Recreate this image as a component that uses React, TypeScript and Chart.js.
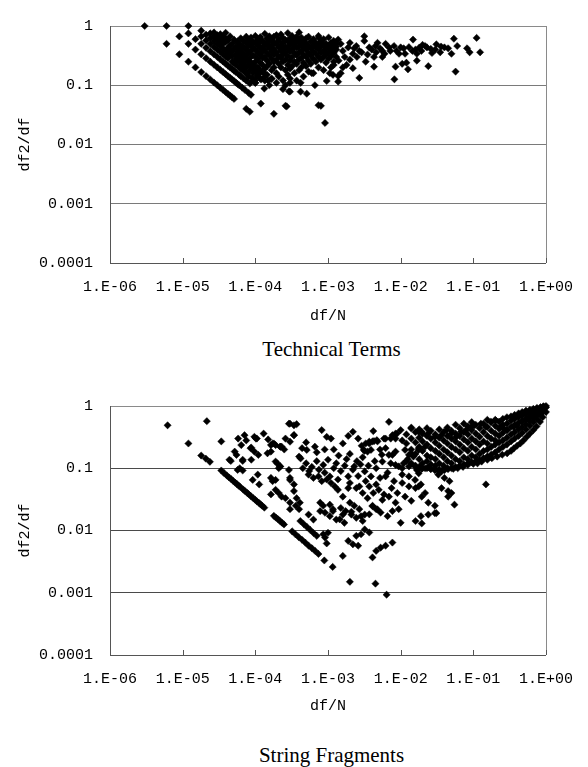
import React, { useEffect, useRef } from 'react';
import { Chart, registerables } from 'chart.js';

Chart.register(...registerables);

// ---------- axis / text data ----------
const xTickValues = [1e-6, 1e-5, 1e-4, 1e-3, 1e-2, 1e-1, 1];
const xTickLabels = ['1.E-06', '1.E-05', '1.E-04', '1.E-03', '1.E-02', '1.E-01', '1.E+00'];
const yTickValues = [1e-4, 1e-3, 1e-2, 1e-1, 1];
const yTickLabels = ['0.0001', '0.001', '0.01', '0.1', '1'];
const xAxisTitle = 'df/N';
const yAxisTitle = 'df2/df';
const panelTitles = ['Technical Terms', 'String Fragments'];

type Pt = [number, number];

// ---------- Technical Terms ----------
const techTop: Pt[] = [[3.0e-6, 1], [6.0e-6, 1], [1.2e-5, 1]];

const techStripeA: Pt[] = [
  [6.0e-6, 0.5], [9.0e-6, 0.333], [1.2e-5, 0.25], [1.5e-5, 0.2], [1.8e-5, 0.167], [2.1e-5, 0.143],
  [2.4e-5, 0.125], [2.7e-5, 0.111], [3.0e-5, 0.1], [3.3e-5, 0.0909], [3.6e-5, 0.0833], [3.9e-5, 0.0769],
  [4.2e-5, 0.0714], [4.5e-5, 0.0667], [4.8e-5, 0.0625], [5.1e-5, 0.0588], [7.5e-5, 0.04], [8.4e-5, 0.0357],
];

const techStripeB: Pt[] = [
  [9.0e-6, 0.667], [1.2e-5, 0.5], [1.5e-5, 0.4], [1.8e-5, 0.333], [2.1e-5, 0.286], [2.4e-5, 0.25],
  [2.7e-5, 0.222], [3.0e-5, 0.2], [3.3e-5, 0.182], [3.6e-5, 0.167], [3.9e-5, 0.154], [4.2e-5, 0.143],
  [4.5e-5, 0.133], [4.8e-5, 0.125], [5.1e-5, 0.118], [5.4e-5, 0.111], [5.7e-5, 0.105], [6.0e-5, 0.1],
  [6.6e-5, 0.0909], [7.2e-5, 0.0833], [8.1e-5, 0.0741], [8.7e-5, 0.069], [1.19e-4, 0.049], [1.8e-4, 0.033],
];

const techStripeC: Pt[] = [
  [1.2e-5, 0.75], [1.5e-5, 0.6], [1.8e-5, 0.5], [2.1e-5, 0.429], [2.4e-5, 0.375], [2.7e-5, 0.333],
  [3.0e-5, 0.3], [3.3e-5, 0.273], [3.6e-5, 0.25], [3.9e-5, 0.231], [4.2e-5, 0.214], [4.5e-5, 0.2],
  [4.8e-5, 0.188], [5.1e-5, 0.176], [5.4e-5, 0.167], [6.0e-5, 0.15], [6.3e-5, 0.143], [6.9e-5, 0.13],
  [7.5e-5, 0.12], [8.4e-5, 0.107],
];

const techStripeD: Pt[] = [
  [1.8e-5, 0.667], [2.1e-5, 0.571], [2.4e-5, 0.5], [2.7e-5, 0.444], [3.0e-5, 0.4], [3.3e-5, 0.364],
  [3.6e-5, 0.333], [3.9e-5, 0.308], [4.2e-5, 0.286], [4.8e-5, 0.25], [5.1e-5, 0.235], [5.4e-5, 0.222],
  [6.0e-5, 0.2], [6.6e-5, 0.182], [7.2e-5, 0.167], [7.8e-5, 0.154], [9.0e-5, 0.133], [9.9e-5, 0.121],
  [2.6e-4, 0.045],
  [1.8e-5, 0.833], [2.1e-5, 0.714], [2.4e-5, 0.625], [2.7e-5, 0.556], [3.0e-5, 0.5], [3.3e-5, 0.455],
  [3.6e-5, 0.417], [3.9e-5, 0.385], [4.2e-5, 0.357], [4.5e-5, 0.333], [4.8e-5, 0.313], [5.4e-5, 0.278],
  [5.7e-5, 0.263], [6.3e-5, 0.238], [6.9e-5, 0.217], [7.5e-5, 0.2], [8.4e-5, 0.179], [9.3e-5, 0.161],
  [1.05e-4, 0.143], [1.2e-4, 0.125],
];

const techStripeE: Pt[] = [
  [2.4e-5, 0.75], [2.7e-5, 0.667], [3.0e-5, 0.6], [3.3e-5, 0.545], [3.6e-5, 0.5], [4.2e-5, 0.429],
  [4.5e-5, 0.4], [4.8e-5, 0.375], [5.4e-5, 0.333], [6.0e-5, 0.3], [6.6e-5, 0.273], [7.2e-5, 0.25],
  [8.1e-5, 0.222], [9.0e-5, 0.2], [1.02e-4, 0.176], [1.14e-4, 0.158], [1.32e-4, 0.136], [1.5e-4, 0.12],
  [2.7e-5, 0.778], [3.0e-5, 0.7], [3.3e-5, 0.636], [3.6e-5, 0.583], [3.9e-5, 0.538], [4.5e-5, 0.467],
  [5.1e-5, 0.412], [5.7e-5, 0.368], [6.3e-5, 0.333], [6.9e-5, 0.304], [7.8e-5, 0.269], [8.7e-5, 0.241],
  [9.9e-5, 0.212], [1.14e-4, 0.184], [1.35e-4, 0.156], [1.65e-4, 0.127],
  [3.3e-5, 0.727], [3.6e-5, 0.667], [3.9e-5, 0.615], [4.2e-5, 0.571], [4.8e-5, 0.5], [5.4e-5, 0.444],
  [6.0e-5, 0.4], [6.6e-5, 0.364], [7.5e-5, 0.32],
  [3.9e-5, 0.769], [4.5e-5, 0.667], [5.1e-5, 0.588], [5.7e-5, 0.526], [6.6e-5, 0.455], [7.5e-5, 0.4],
];

const techCloud: Pt[] = [
  [5.7e-5, 0.55], [5.7e-5, 0.42], [5.7e-5, 0.3],
  [6.3e-5, 0.62], [6.3e-5, 0.48], [6.3e-5, 0.36], [6.3e-5, 0.26], [6.3e-5, 0.19],
  [6.9e-5, 0.56], [6.9e-5, 0.44], [6.9e-5, 0.33], [6.9e-5, 0.24],
  [7.5e-5, 0.66], [7.5e-5, 0.52], [7.5e-5, 0.4], [7.5e-5, 0.28], [7.5e-5, 0.16],
  [8.1e-5, 0.58], [8.1e-5, 0.46], [8.1e-5, 0.35], [8.1e-5, 0.25], [8.1e-5, 0.14],
  [8.7e-5, 0.64], [8.7e-5, 0.5], [8.7e-5, 0.38], [8.7e-5, 0.3], [8.7e-5, 0.21],
  [9.3e-5, 0.54], [9.3e-5, 0.43], [9.3e-5, 0.32], [9.3e-5, 0.23], [9.3e-5, 0.12],
  [1.0e-4, 0.68], [1.0e-4, 0.52], [1.0e-4, 0.4], [1.0e-4, 0.31], [1.0e-4, 0.25], [1.0e-4, 0.18], [1.0e-4, 0.11],
  [1.08e-4, 0.6], [1.08e-4, 0.47], [1.08e-4, 0.36], [1.08e-4, 0.28], [1.08e-4, 0.2], [1.08e-4, 0.15],
  [1.17e-4, 0.65], [1.17e-4, 0.54], [1.17e-4, 0.42], [1.17e-4, 0.33], [1.17e-4, 0.24], [1.17e-4, 0.13],
  [1.26e-4, 0.56], [1.26e-4, 0.45], [1.26e-4, 0.37], [1.26e-4, 0.29], [1.26e-4, 0.22], [1.26e-4, 0.17],
  [1.35e-4, 0.74], [1.35e-4, 0.51], [1.35e-4, 0.4], [1.35e-4, 0.3], [1.35e-4, 0.19], [1.35e-4, 0.12],
  [1.45e-4, 0.62], [1.45e-4, 0.48], [1.45e-4, 0.35], [1.45e-4, 0.26], [1.45e-4, 0.21], [1.45e-4, 0.15],
  [1.56e-4, 0.67], [1.56e-4, 0.55], [1.56e-4, 0.43], [1.56e-4, 0.32], [1.56e-4, 0.23], [1.56e-4, 0.1],
  [1.68e-4, 0.58], [1.68e-4, 0.47], [1.68e-4, 0.38], [1.68e-4, 0.28], [1.68e-4, 0.18], [1.68e-4, 0.13],
  [1.8e-4, 0.66], [1.8e-4, 0.53], [1.8e-4, 0.41], [1.8e-4, 0.33], [1.8e-4, 0.25], [1.8e-4, 0.2],
  [1.95e-4, 0.7], [1.95e-4, 0.5], [1.95e-4, 0.36], [1.95e-4, 0.27], [1.95e-4, 0.16], [1.95e-4, 0.11],
  [2.1e-4, 0.6], [2.1e-4, 0.56], [2.1e-4, 0.44], [2.1e-4, 0.31], [2.1e-4, 0.23], [2.1e-4, 0.14],
  [2.25e-4, 0.72], [2.25e-4, 0.47], [2.25e-4, 0.38], [2.25e-4, 0.29], [2.25e-4, 0.2],
  [2.4e-4, 0.63], [2.4e-4, 0.52], [2.4e-4, 0.41], [2.4e-4, 0.33], [2.4e-4, 0.25], [2.4e-4, 0.12],
  [2.6e-4, 0.58], [2.6e-4, 0.45], [2.6e-4, 0.36], [2.6e-4, 0.27], [2.6e-4, 0.18], [2.6e-4, 0.1],
  [2.8e-4, 0.76], [2.8e-4, 0.55], [2.8e-4, 0.42], [2.8e-4, 0.31], [2.8e-4, 0.22], [2.8e-4, 0.15],
  [3.0e-4, 0.62], [3.0e-4, 0.48], [3.0e-4, 0.37], [3.0e-4, 0.26], [3.0e-4, 0.19], [3.0e-4, 0.13],
  [3.2e-4, 0.68], [3.2e-4, 0.52], [3.2e-4, 0.4], [3.2e-4, 0.3], [3.2e-4, 0.21],
  [3.45e-4, 0.58], [3.45e-4, 0.46], [3.45e-4, 0.35], [3.45e-4, 0.25], [3.45e-4, 0.16],
  [3.7e-4, 0.66], [3.7e-4, 0.53], [3.7e-4, 0.43], [3.7e-4, 0.32], [3.7e-4, 0.23], [3.7e-4, 0.12],
  [4.0e-4, 0.78], [4.0e-4, 0.58], [4.0e-4, 0.45], [4.0e-4, 0.36], [4.0e-4, 0.27], [4.0e-4, 0.18],
  [4.3e-4, 0.64], [4.3e-4, 0.5], [4.3e-4, 0.38], [4.3e-4, 0.29], [4.3e-4, 0.2],
  [4.6e-4, 0.55], [4.6e-4, 0.44], [4.6e-4, 0.33], [4.6e-4, 0.24], [4.6e-4, 0.14],
  [5.0e-4, 0.62], [5.0e-4, 0.51], [5.0e-4, 0.4], [5.0e-4, 0.3], [5.0e-4, 0.21],
  [5.4e-4, 0.66], [5.4e-4, 0.46], [5.4e-4, 0.35], [5.4e-4, 0.26], [5.4e-4, 0.17],
  [5.8e-4, 0.55], [5.8e-4, 0.42], [5.8e-4, 0.32], [5.8e-4, 0.23],
  [6.3e-4, 0.6], [6.3e-4, 0.48], [6.3e-4, 0.37], [6.3e-4, 0.28], [6.3e-4, 0.16],
  [6.8e-4, 0.52], [6.8e-4, 0.44], [6.8e-4, 0.34], [6.8e-4, 0.25],
  [7.4e-4, 0.68], [7.4e-4, 0.5], [7.4e-4, 0.4], [7.4e-4, 0.3], [7.4e-4, 0.2],
  [8.0e-4, 0.55], [8.0e-4, 0.45], [8.0e-4, 0.35], [8.0e-4, 0.27],
  [8.7e-4, 0.6], [8.7e-4, 0.48], [8.7e-4, 0.38], [8.7e-4, 0.3], [8.7e-4, 0.18],
  [9.4e-4, 0.5], [9.4e-4, 0.42], [9.4e-4, 0.33], [9.4e-4, 0.24],
  [1.02e-3, 0.64], [1.02e-3, 0.46], [1.02e-3, 0.36], [1.02e-3, 0.28],
  [1.1e-3, 0.5], [1.1e-3, 0.4], [1.1e-3, 0.31], [1.1e-3, 0.2],
  [1.2e-3, 0.56], [1.2e-3, 0.45], [1.2e-3, 0.35], [1.2e-3, 0.25],
  [1.3e-3, 0.5], [1.3e-3, 0.4], [1.3e-3, 0.3],
];

const techLow: Pt[] = [
  [1.33e-4, 0.088], [2.4e-4, 0.086], [2.9e-4, 0.079], [3.0e-4, 0.078], [4.2e-4, 0.078], [5.1e-4, 0.072],
  [2.7e-4, 0.044], [7.4e-4, 0.046], [8.0e-4, 0.045], [9.1e-4, 0.0231], [6.6e-4, 0.1], [1.0e-4, 0.11],
];

const techRight: Pt[] = [
  [7.5e-4, 0.63], [1.38e-3, 0.59], [3.16e-3, 0.67], [3.16e-3, 0.56], [4.8e-3, 0.52], [6.2e-3, 0.5],
  [8.1e-3, 0.46], [1.0e-2, 0.435], [1.48e-2, 0.59], [2.17e-2, 0.46], [3.1e-2, 0.49], [4.0e-2, 0.435],
  [5.4e-2, 0.61], [6.0e-2, 0.46], [8.2e-2, 0.42], [8.9e-2, 0.36], [0.111, 0.63], [0.124, 0.36],
  [5.0e-2, 0.34], [5.7e-2, 0.17], [2.4e-2, 0.21], [1.67e-2, 0.26], [1.26e-2, 0.186], [1.05e-2, 0.23],
  [1.2e-2, 0.24], [8.5e-3, 0.206], [8.2e-3, 0.126], [2.7e-2, 0.35], [3.5e-2, 0.36], [2.3e-2, 0.435],
  [1.93e-2, 0.38], [1.67e-2, 0.34], [1.45e-2, 0.38], [1.15e-2, 0.34], [9.5e-3, 0.34], [6.9e-3, 0.435],
  [5.6e-3, 0.38], [4.6e-3, 0.36], [4.3e-3, 0.3], [5.6e-3, 0.3], [4.3e-3, 0.206], [3.3e-3, 0.25],
  [3.7e-3, 0.435], [2.7e-3, 0.38], [2.45e-3, 0.46], [2.2e-3, 0.34], [2.7e-3, 0.133], [2.2e-3, 0.194],
  [1.8e-3, 0.22], [1.9e-3, 0.435], [1.6e-3, 0.38], [1.5e-3, 0.16], [1.38e-3, 0.143], [1.38e-3, 0.115],
  [1.17e-3, 0.15], [1.06e-3, 0.16], [9.6e-4, 0.118], [6.0e-4, 0.16], [4.2e-4, 0.11], [3.0e-4, 0.11],
  [1.5e-3, 0.5], [1.7e-3, 0.3], [2.0e-3, 0.27], [2.0e-3, 0.52], [2.3e-3, 0.42], [2.5e-3, 0.3],
  [2.9e-3, 0.36], [3.5e-3, 0.33], [4.0e-3, 0.4], [4.5e-3, 0.46], [5.2e-3, 0.42], [6.0e-3, 0.34],
  [7.2e-3, 0.38], [8.8e-3, 0.38], [1.1e-2, 0.42], [1.3e-2, 0.44], [1.6e-2, 0.4], [1.8e-2, 0.43],
  [2.0e-2, 0.48], [2.6e-2, 0.41], [3.0e-2, 0.4], [3.6e-2, 0.45], [4.5e-2, 0.42], [1.4e-3, 0.26],
  [1.2e-3, 0.22], [1.6e-3, 0.2], [1.3e-3, 0.45], [1.1e-3, 0.52],
];

// ---------- String Fragments ----------
const fragStripeA: Pt[] = [
  [6.2e-6, 0.49], [1.2e-5, 0.25], [1.8e-5, 0.16], [2.08e-5, 0.143], [2.37e-5, 0.127], [3.4e-5, 0.092],
  [3.72e-5, 0.0833], [4.03e-5, 0.0769], [4.34e-5, 0.0714], [4.65e-5, 0.0667], [4.96e-5, 0.0625],
  [5.27e-5, 0.0588], [5.58e-5, 0.0556], [5.89e-5, 0.0526], [6.2e-5, 0.05], [6.82e-5, 0.0455],
  [7.13e-5, 0.0435], [7.75e-5, 0.04], [8.06e-5, 0.0385], [8.68e-5, 0.0357], [9.3e-5, 0.0333],
  [9.92e-5, 0.0313], [1.05e-4, 0.0294], [1.12e-4, 0.0278], [1.18e-4, 0.0263], [1.24e-4, 0.025],
  [1.33e-4, 0.0233], [1.8e-4, 0.0172], [1.92e-4, 0.0161], [2.05e-4, 0.0152], [2.17e-4, 0.0143],
  [2.33e-4, 0.0133], [2.48e-4, 0.0125], [3.21e-4, 0.0097], [3.56e-4, 0.0087], [3.96e-4, 0.0078],
  [4.39e-4, 0.0071], [4.86e-4, 0.0064], [5.41e-4, 0.0057], [6.0e-4, 0.0052], [6.64e-4, 0.0047],
  [7.39e-4, 0.0042], [8.9e-4, 0.0033], [1.16e-3, 0.0026], [2.0e-3, 0.0015],
];

const fragStripeB: Pt[] = [
  [4.16e-4, 0.0142], [4.63e-4, 0.0127], [5.13e-4, 0.0114], [5.69e-4, 0.0102], [6.33e-4, 0.0091],
  [7.01e-4, 0.0082], [9.6e-4, 0.0062], [1.6e-3, 0.0039], [4.5e-3, 0.0014], [6.4e-3, 0.00093],
  [8.6e-4, 0.0087], [9.1e-4, 0.0077], [1.0e-3, 0.0092],
];

const fragLeft: Pt[] = [
  [2.15e-5, 0.57], [3.4e-5, 0.27], [5.8e-5, 0.3], [7.1e-5, 0.34], [6.4e-5, 0.236], [8.6e-5, 0.21],
  [1.02e-4, 0.3], [5.5e-5, 0.164], [6.7e-5, 0.137], [8.8e-5, 0.137], [1.1e-4, 0.164], [4.4e-5, 0.137],
  [6.1e-5, 0.1], [6.7e-5, 0.092], [9.2e-5, 0.065], [1.08e-4, 0.079], [1.13e-4, 0.055], [1.73e-4, 0.25],
  [1.9e-4, 0.236], [2.2e-4, 0.222], [1.64e-4, 0.185], [1.9e-4, 0.128], [2.1e-4, 0.1], [1.9e-4, 0.065],
  [1.64e-4, 0.038], [1.9e-4, 0.045], [2.1e-4, 0.04], [2.3e-4, 0.035], [9.7e-5, 0.32], [1.05e-4, 0.3],
  [8.8e-5, 0.214], [9.7e-5, 0.185], [5.7e-5, 0.094], [5.2e-5, 0.185], [6.7e-5, 0.131], [4.6e-5, 0.131],
  [7.5e-5, 0.28], [1.64e-4, 0.236], [1.8e-4, 0.25], [2.3e-4, 0.222], [1.47e-4, 0.174], [2.2e-4, 0.107],
  [2.9e-4, 0.094], [2.9e-4, 0.52], [3.4e-4, 0.49], [3.4e-4, 0.34], [3.0e-4, 0.065], [3.4e-4, 0.043],
  [1.64e-4, 0.07], [1.73e-4, 0.062], [2.6e-4, 0.033], [1.3e-4, 0.36], [1.5e-4, 0.29], [2.5e-4, 0.2],
  [2.6e-4, 0.3],
];

const fragLowV: Pt[] = [
  [3.0e-4, 0.022], [3.6e-4, 0.025], [4.0e-4, 0.022], [7.8e-4, 0.0205], [9.1e-4, 0.0193], [1.06e-3, 0.017],
  [1.17e-3, 0.0205], [1.45e-3, 0.0151], [1.68e-3, 0.0133], [1.9e-3, 0.0068], [2.2e-3, 0.006],
  [2.6e-3, 0.0057], [2.45e-3, 0.0082], [2.85e-3, 0.0087], [3.2e-3, 0.0104], [3.7e-3, 0.0093],
  [4.1e-3, 0.0037], [4.6e-3, 0.0047], [5.3e-3, 0.0053], [6.2e-3, 0.0057], [7.7e-3, 0.0064],
  [4.1e-3, 0.0245], [4.8e-3, 0.0218], [5.3e-3, 0.0194], [6.6e-3, 0.017], [7.7e-3, 0.0205],
  [3.7e-3, 0.0182], [3.0e-3, 0.0142], [1.5e-3, 0.023], [1.75e-3, 0.0205], [2.1e-3, 0.018],
  [2.45e-3, 0.016], [2.85e-3, 0.017], [1.0e-2, 0.0133], [1.6e-2, 0.0142], [1.9e-2, 0.017],
  [5.4e-4, 0.018], [6.3e-4, 0.015], [1.3e-3, 0.015], [1.6e-3, 0.018], [2.1e-3, 0.02],
];

const fragMid: Pt[] = [
  [3.0e-4, 0.52], [3.7e-4, 0.51], [3.4e-4, 0.34], [8.2e-4, 0.41], [9.6e-4, 0.32], [2.2e-3, 0.385],
  [4.2e-3, 0.395], [6.9e-3, 0.556], [8.5e-3, 0.36], [1.0e-2, 0.41], [1.4e-2, 0.435], [1.77e-2, 0.385],
  [1.05e-2, 0.28], [5.9e-3, 0.3], [7.3e-3, 0.3], [8.5e-3, 0.3], [4.8e-3, 0.27], [4.1e-3, 0.27],
  [3.7e-3, 0.25], [3.1e-3, 0.197], [3.5e-3, 0.185], [2.2e-4, 0.222], [3.0e-4, 0.267], [4.4e-4, 0.21],
  [5.1e-4, 0.197], [6.6e-4, 0.222], [4.0e-4, 0.154], [4.2e-4, 0.144], [8.6e-4, 0.113], [1.0e-3, 0.137],
  [2.3e-3, 0.107], [2.2e-3, 0.095], [3.2e-3, 0.089], [3.9e-3, 0.074], [4.6e-3, 0.1], [6.2e-3, 0.074],
  [6.9e-3, 0.164], [7.7e-3, 0.164], [5.6e-3, 0.128], [7.3e-3, 0.12], [9.4e-3, 0.107], [1.05e-2, 0.079],
  [1.3e-2, 0.074], [1.77e-2, 0.083], [1.3e-2, 0.164], [1.5e-2, 0.154], [1.77e-2, 0.197], [2.2e-4, 0.107],
  [2.0e-4, 0.12], [3.0e-4, 0.07], [3.4e-4, 0.055], [5.4e-4, 0.079], [6.3e-4, 0.07], [7.4e-4, 0.074],
  [8.2e-4, 0.062], [9.6e-4, 0.066], [1.06e-3, 0.074], [1.1e-3, 0.058], [1.37e-3, 0.066], [1.24e-3, 0.051],
  [1.37e-3, 0.045], [1.9e-3, 0.074], [2.0e-3, 0.058], [1.9e-3, 0.048], [2.45e-3, 0.048], [2.7e-3, 0.051],
  [3.3e-3, 0.062], [3.7e-3, 0.051], [4.6e-3, 0.055], [5.0e-3, 0.045], [5.9e-3, 0.038], [8.1e-3, 0.062],
  [1.05e-2, 0.058], [1.3e-2, 0.051], [1.6e-2, 0.048], [1.9e-2, 0.055], [1.6e-3, 0.035], [2.0e-3, 0.028],
  [2.3e-3, 0.025], [2.7e-3, 0.022], [3.2e-3, 0.018], [4.1e-3, 0.025], [4.6e-3, 0.022], [5.6e-3, 0.031],
  [6.9e-3, 0.035], [8.5e-3, 0.028], [9.4e-3, 0.022], [3.0e-4, 0.028], [3.7e-4, 0.033], [4.1e-4, 0.028],
  [7.8e-4, 0.028], [8.6e-4, 0.025], [1.06e-3, 0.026], [1.17e-3, 0.022], [3.3e-3, 0.25], [3.7e-3, 0.267],
  [4.3e-3, 0.273], [4.7e-3, 0.283], [3.2e-3, 0.19], [3.9e-3, 0.197], [6.2e-3, 0.3], [7.7e-3, 0.34],
  [8.9e-3, 0.36], [6.2e-3, 0.21], [8.5e-3, 0.185], [1.15e-2, 0.197], [1.4e-2, 0.174], [1.77e-2, 0.21],
  [2.17e-2, 0.222], [8.5e-3, 0.113], [1.05e-2, 0.1], [1.3e-2, 0.107], [1.67e-2, 0.094], [1.95e-2, 0.098],
  [2.4e-2, 0.103], [2.96e-2, 0.094],
  [4.5e-4, 0.1], [5.0e-4, 0.12], [5.5e-4, 0.09], [6.0e-4, 0.105], [7.0e-4, 0.13], [7.5e-4, 0.095],
  [9.0e-4, 0.085], [1.2e-3, 0.1], [1.3e-3, 0.12], [1.5e-3, 0.09], [1.7e-3, 0.11], [1.8e-3, 0.14],
  [2.5e-3, 0.13], [2.8e-3, 0.115], [1.4e-3, 0.16], [1.2e-3, 0.2], [1.6e-3, 0.25], [2.0e-3, 0.17],
  [2.6e-3, 0.3], [3.0e-3, 0.15], [5.0e-4, 0.26], [7.0e-4, 0.18], [9.0e-4, 0.2], [1.1e-3, 0.3],
  [1.9e-3, 0.33], [2.9e-3, 0.23], [5.2e-3, 0.2], [5.5e-3, 0.165], [4.4e-3, 0.13], [3.6e-3, 0.11],
  [2.6e-3, 0.075], [3.0e-3, 0.04], [3.5e-3, 0.033], [4.2e-3, 0.04], [5.2e-3, 0.07], [6.6e-3, 0.085],
  [7.5e-3, 0.048], [9.0e-3, 0.04], [1.15e-2, 0.035], [1.4e-2, 0.03], [1.1e-2, 0.12], [1.25e-2, 0.14],
];

const fragBandTop: Pt[] = [
  [1.95e-2, 0.385], [2.4e-2, 0.362], [2.96e-2, 0.32], [3.65e-2, 0.34], [4.27e-2, 0.41], [4.99e-2, 0.362],
  [5.83e-2, 0.32], [6.8e-2, 0.385], [7.96e-2, 0.41], [9.3e-2, 0.46], [0.103, 0.49], [0.127, 0.52],
  [0.149, 0.46], [0.174, 0.556], [0.203, 0.59], [0.237, 0.46], [0.263, 0.435], [0.292, 0.41],
  [0.36, 0.46], [0.398, 0.49], [0.466, 0.556], [0.545, 0.63], [0.605, 0.67], [0.671, 0.71],
  [0.784, 0.8], [0.869, 0.905], [0.966, 0.96], [1.0, 1.0],
];

const fragBandLow: Pt[] = [
  [1.58e-2, 0.107], [2.17e-2, 0.1], [2.96e-2, 0.094], [3.65e-2, 0.089], [4.49e-2, 0.097], [6.1e-2, 0.1],
  [8.4e-2, 0.113], [0.114, 0.12], [0.156, 0.137], [0.213, 0.154], [0.292, 0.174], [0.36, 0.208],
  [0.443, 0.25], [0.545, 0.32], [0.671, 0.41], [0.826, 0.556], [1.0, 0.8],
  [0.25, 0.165], [0.33, 0.19], [0.4, 0.23], [0.49, 0.28], [0.6, 0.36], [0.74, 0.47], [0.9, 0.66],
  [0.18, 0.145], [0.13, 0.128], [0.1, 0.118], [7.2e-2, 0.105], [5.3e-2, 0.098], [4.0e-2, 0.093],
  [3.3e-2, 0.092], [2.6e-2, 0.097], [1.9e-2, 0.103],
];

const fragBelowBand: Pt[] = [
  [0.149, 0.055], [1.58e-2, 0.065], [1.77e-2, 0.051], [2.17e-2, 0.04], [1.95e-2, 0.035], [2.4e-2, 0.028],
  [2.96e-2, 0.025], [5.5e-2, 0.026], [4.49e-2, 0.035], [2.96e-2, 0.019], [2.4e-2, 0.018], [3.1e-2, 0.019],
  [1.95e-2, 0.013], [3.3e-2, 0.079], [4.0e-2, 0.07], [4.7e-2, 0.062], [3.65e-2, 0.048], [4.5e-2, 0.043],
  [5.0e-2, 0.04],
];

const fragBandFill: Pt[] = [
  [1.2e-2, 0.13], [1.2e-2, 0.25], [1.2e-2, 0.35],
  [1.4e-2, 0.12], [1.4e-2, 0.2], [1.4e-2, 0.3], [1.4e-2, 0.45],
  [1.6e-2, 0.11], [1.6e-2, 0.17], [1.6e-2, 0.26], [1.6e-2, 0.38],
  [1.8e-2, 0.105], [1.8e-2, 0.14], [1.8e-2, 0.22], [1.8e-2, 0.31], [1.8e-2, 0.42],
  [2.0e-2, 0.1], [2.0e-2, 0.12], [2.0e-2, 0.19], [2.0e-2, 0.27], [2.0e-2, 0.36],
  [2.3e-2, 0.1], [2.3e-2, 0.13], [2.3e-2, 0.16], [2.3e-2, 0.24], [2.3e-2, 0.33], [2.3e-2, 0.44],
  [2.6e-2, 0.098], [2.6e-2, 0.115], [2.6e-2, 0.15], [2.6e-2, 0.21], [2.6e-2, 0.3], [2.6e-2, 0.4],
  [3.0e-2, 0.096], [3.0e-2, 0.11], [3.0e-2, 0.14], [3.0e-2, 0.19], [3.0e-2, 0.26], [3.0e-2, 0.35],
  [3.4e-2, 0.095], [3.4e-2, 0.12], [3.4e-2, 0.17], [3.4e-2, 0.23], [3.4e-2, 0.31], [3.4e-2, 0.42],
  [3.9e-2, 0.097], [3.9e-2, 0.11], [3.9e-2, 0.15], [3.9e-2, 0.2], [3.9e-2, 0.28], [3.9e-2, 0.38],
  [4.4e-2, 0.1], [4.4e-2, 0.13], [4.4e-2, 0.18], [4.4e-2, 0.25], [4.4e-2, 0.33], [4.4e-2, 0.45],
  [5.0e-2, 0.1], [5.0e-2, 0.12], [5.0e-2, 0.16], [5.0e-2, 0.22], [5.0e-2, 0.3], [5.0e-2, 0.4],
  [5.7e-2, 0.105], [5.7e-2, 0.14], [5.7e-2, 0.2], [5.7e-2, 0.27], [5.7e-2, 0.36], [5.7e-2, 0.5],
  [6.5e-2, 0.11], [6.5e-2, 0.13], [6.5e-2, 0.18], [6.5e-2, 0.24], [6.5e-2, 0.33], [6.5e-2, 0.44],
  [7.4e-2, 0.115], [7.4e-2, 0.15], [7.4e-2, 0.21], [7.4e-2, 0.29], [7.4e-2, 0.38], [7.4e-2, 0.52],
  [8.4e-2, 0.12], [8.4e-2, 0.14], [8.4e-2, 0.19], [8.4e-2, 0.26], [8.4e-2, 0.35], [8.4e-2, 0.47],
  [9.5e-2, 0.125], [9.5e-2, 0.16], [9.5e-2, 0.22], [9.5e-2, 0.3], [9.5e-2, 0.41], [9.5e-2, 0.55],
  [0.108, 0.13], [0.108, 0.15], [0.108, 0.2], [0.108, 0.27], [0.108, 0.36], [0.108, 0.5],
  [0.122, 0.135], [0.122, 0.17], [0.122, 0.24], [0.122, 0.32], [0.122, 0.44],
  [0.138, 0.145], [0.138, 0.19], [0.138, 0.27], [0.138, 0.38], [0.138, 0.52],
  [0.156, 0.155], [0.156, 0.2], [0.156, 0.25], [0.156, 0.33], [0.156, 0.46], [0.156, 0.6],
  [0.176, 0.165], [0.176, 0.22], [0.176, 0.3], [0.176, 0.4], [0.176, 0.55],
  [0.2, 0.18], [0.2, 0.24], [0.2, 0.28], [0.2, 0.36], [0.2, 0.48], [0.2, 0.6],
  [0.226, 0.2], [0.226, 0.26], [0.226, 0.33], [0.226, 0.43], [0.226, 0.56],
  [0.255, 0.22], [0.255, 0.28], [0.255, 0.37], [0.255, 0.5], [0.255, 0.62],
  [0.29, 0.24], [0.29, 0.31], [0.29, 0.41], [0.29, 0.52], [0.29, 0.66],
  [0.33, 0.27], [0.33, 0.35], [0.33, 0.46], [0.33, 0.58], [0.33, 0.68],
  [0.37, 0.3], [0.37, 0.38], [0.37, 0.5], [0.37, 0.62], [0.37, 0.72],
  [0.42, 0.33], [0.42, 0.42], [0.42, 0.54], [0.42, 0.66], [0.42, 0.76],
  [0.47, 0.37], [0.47, 0.46], [0.47, 0.58], [0.47, 0.7], [0.47, 0.8],
  [0.53, 0.42], [0.53, 0.51], [0.53, 0.62], [0.53, 0.74], [0.53, 0.84],
  [0.6, 0.48], [0.6, 0.57], [0.6, 0.67], [0.6, 0.78], [0.6, 0.87],
  [0.67, 0.55], [0.67, 0.63], [0.67, 0.72], [0.67, 0.82], [0.67, 0.9],
  [0.75, 0.62], [0.75, 0.7], [0.75, 0.78], [0.75, 0.86], [0.75, 0.93],
  [0.84, 0.72], [0.84, 0.78], [0.84, 0.85], [0.84, 0.91], [0.84, 0.96],
  [0.92, 0.82], [0.92, 0.88], [0.92, 0.93], [0.92, 0.97], [0.92, 0.99],
  [1.0, 0.95],
];

const techPoints: Pt[] = [
  ...techTop, ...techStripeA, ...techStripeB, ...techStripeC, ...techStripeD, ...techStripeE,
  ...techCloud, ...techLow, ...techRight,
];
const fragPoints: Pt[] = [
  ...fragStripeA, ...fragStripeB, ...fragLeft, ...fragLowV, ...fragMid, ...fragBandTop,
  ...fragBandLow, ...fragBelowBand, ...fragBandFill,
];

const MONO = "'Liberation Mono', 'DejaVu Sans Mono', monospace";
const PLOT_LEFT = 110;
const PLOT_RIGHT = 553;
const W = 588;

type PanelProps = {
  points: Pt[];
  top: number;
  height: number;
  plotTop: number;
  plotBottom: number;
  gridColor: string;
  radius: number;
};

function Panel({ points, top, height, plotTop, plotBottom, gridColor, radius }: PanelProps) {
  const ref = useRef<HTMLCanvasElement>(null);
  useEffect(() => {
    const frame = {
      id: 'frame',
      beforeDatasetsDraw(chart: any) {
        const { ctx, chartArea } = chart;
        const xs = chart.scales.x;
        ctx.save();
        ctx.lineWidth = 1;
        ctx.strokeStyle = '#8a8a8a';
        const rx = Math.round(chartArea.right) + 0.5;
        ctx.beginPath();
        ctx.moveTo(rx, chartArea.top);
        ctx.lineTo(rx, chartArea.bottom);
        ctx.stroke();
        ctx.strokeStyle = '#555';
        for (const v of xTickValues) {
          const px = Math.round(xs.getPixelForValue(v)) + 0.5;
          ctx.beginPath();
          ctx.moveTo(px, chartArea.bottom);
          ctx.lineTo(px, chartArea.bottom - 5);
          ctx.stroke();
        }
        ctx.restore();
      },
    };
    const font = { family: MONO, size: 15 };
    const chart = new Chart(ref.current as HTMLCanvasElement, {
      type: 'scatter',
      data: {
        datasets: [
          {
            data: points.map(([x, y]) => ({ x, y })),
            pointStyle: 'rectRot',
            pointRadius: radius,
            pointHoverRadius: radius,
            backgroundColor: '#000',
            borderColor: '#000',
            borderWidth: 0.5,
            clip: false as any,
          },
        ],
      },
      options: {
        animation: false,
        responsive: false,
        maintainAspectRatio: false,
        events: [],
        layout: { padding: { top: plotTop, right: W - PLOT_RIGHT, left: 0, bottom: 0 } },
        plugins: { legend: { display: false }, tooltip: { enabled: false } },
        scales: {
          x: {
            type: 'logarithmic',
            min: 1e-6,
            max: 1,
            afterFit: (s: any) => {
              s.height = height - plotBottom;
            },
            afterBuildTicks: (s: any) => {
              s.ticks = xTickValues.map((v) => ({ value: v }));
            },
            ticks: {
              autoSkip: false,
              maxRotation: 0,
              minRotation: 0,
              padding: 15,
              color: '#000',
              font,
              callback: (_v: any, i: number) => xTickLabels[i],
            },
            grid: { drawOnChartArea: false, drawTicks: false },
            border: { display: true, color: '#555', width: 1 },
            title: { display: true, text: xAxisTitle, color: '#000', font, padding: { top: 0, bottom: 5 } },
          },
          y: {
            type: 'logarithmic',
            min: 1e-4,
            max: 1,
            afterFit: (s: any) => {
              s.width = PLOT_LEFT;
            },
            afterBuildTicks: (s: any) => {
              s.ticks = yTickValues.map((v) => ({ value: v }));
            },
            ticks: {
              autoSkip: false,
              padding: 17,
              color: '#000',
              font,
              callback: (_v: any, i: number) => yTickLabels[i],
            },
            grid: {
              drawTicks: false,
              color: (c: any) => (c.tick && c.tick.value === 1 ? '#8a8a8a' : gridColor),
              lineWidth: 1,
            },
            border: { display: true, color: '#555', width: 1 },
            title: { display: true, text: yAxisTitle, color: '#000', font, padding: { top: 16, bottom: 0 } },
          },
        },
      } as any,
      plugins: [frame],
    });
    return () => chart.destroy();
  }, []);
  return (
    <canvas
      ref={ref}
      width={W}
      height={height}
      style={{ position: 'absolute', left: 0, top, width: W, height }}
    />
  );
}

const titleStyle = (top: number): React.CSSProperties => ({
  position: 'absolute',
  left: PLOT_LEFT,
  width: PLOT_RIGHT - PLOT_LEFT,
  top,
  textAlign: 'center',
  fontFamily: "'Liberation Serif', 'Times New Roman', serif",
  fontSize: 21,
  lineHeight: '24px',
  color: '#000',
  whiteSpace: 'nowrap',
});

export default function App() {
  return (
    <div style={{ position: 'absolute', left: 0, top: 0, width: W, height: 767, background: '#fff', overflow: 'hidden' }}>
      <Panel points={techPoints} top={0} height={330} plotTop={16} plotBottom={263} gridColor="#7a7a7a" radius={3.6} />
      <div style={titleStyle(337)}>{panelTitles[0]}</div>
      <Panel points={fragPoints} top={380} height={340} plotTop={24} plotBottom={275} gridColor="#4a4a4a" radius={3.6} />
      <div style={titleStyle(743)}>{panelTitles[1]}</div>
    </div>
  );
}
